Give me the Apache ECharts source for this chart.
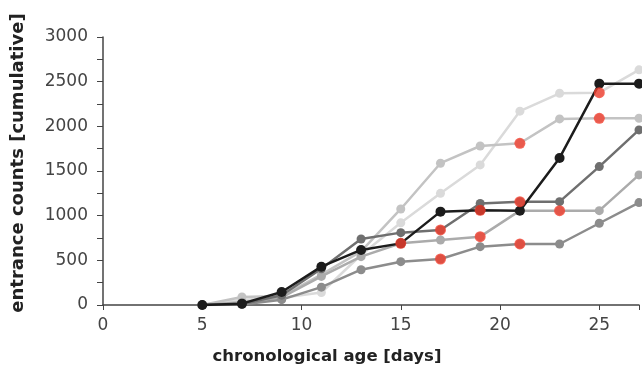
<!DOCTYPE html>
<html><head><meta charset="utf-8">
<script src="https://cdn.jsdelivr.net/npm/echarts@6/dist/echarts.min.js"></script>
<style>html,body{margin:0;padding:0;background:#fff}#c{width:642px;height:370px}</style>
</head><body><div id="c"></div>
<script>
const days = [5, 7, 9, 11, 13, 15, 17, 19, 21, 23, 25, 27];
const seriesA = [0, 15, 145, 429, 616, 690, 1045, 1060, 1056, 1646, 2478, 2478];
const seriesB = [0, 10, 110, 405, 739, 810, 840, 1137, 1157, 1157, 1549, 1960];
const seriesC = [0, 30, 85, 320, 541, 691, 728, 765, 1056, 1056, 1056, 1456];
const seriesD = [0, 5, 60, 200, 395, 485, 515, 653, 683, 683, 915, 1146];
const seriesE = [0, 90, 100, 340, 600, 1075, 1587, 1780, 1810, 2083, 2090, 2090];
const seriesF = [0, 60, 80, 140, 560, 920, 1250, 1568, 2170, 2370, 2377, 2632];
const yTicks = [0, 500, 1000, 1500, 2000, 2500, 3000];
const xTicks = [0, 5, 10, 15, 20, 25];
// red-marked points: [series, day]
const redMarks = [['C', 15], ['A', 19], ['C', 19], ['C', 23], ['B', 17], ['B', 21], ['D', 17], ['D', 21], ['E', 21], ['E', 25], ['F', 25]];

const all = {A: seriesA, B: seriesB, C: seriesC, D: seriesD, E: seriesE, F: seriesF};
const colors = {F: '#dadada', E: '#c3c3c3', C: '#ababab', D: '#8c8c8c', B: '#6f6f6f', A: '#1c1c1c'};
const order = ['F', 'E', 'C', 'D', 'B', 'A'];
const pairs = arr => days.map((d, i) => [d, arr[i]]);

const series = order.map((k, idx) => ({
  name: k, type: 'line', data: pairs(all[k]), symbol: 'circle',
  symbolSize: k === 'A' ? 10 : 9, z: 2 + idx,
  lineStyle: {color: colors[k], width: 2.5},
  itemStyle: {color: colors[k]}, animation: false
}));
series.push({
  type: 'scatter', z: 20, symbolSize: 11, animation: false,
  itemStyle: {color: '#f2402f'},
  data: redMarks.map(([k, d]) => [d, all[k][days.indexOf(d)]])
});

const chart = echarts.init(document.getElementById('c'));
chart.setOption({
  animation: false,
  grid: {left: 103, right: 0, top: 37, bottom: 65},
  xAxis: {
    type: 'value', min: 0, max: 27, interval: 5,
    axisLine: {lineStyle: {color: '#444', width: 1.5}},
    axisTick: {show: true, length: 5, lineStyle: {color: '#444'}},
    splitLine: {show: false},
    axisLabel: {color: '#444', fontSize: 17, fontFamily: 'DejaVu Sans', margin: 12,
      formatter: v => xTicks.includes(v) ? String(v) : ''}
  },
  yAxis: {
    type: 'value', min: 0, max: 3000, interval: 250,
    axisLine: {show: true, lineStyle: {color: '#444', width: 1.5}},
    axisTick: {show: true, length: 6, lineStyle: {color: '#444'}},
    splitLine: {show: false},
    axisLabel: {color: '#444', fontSize: 17, fontFamily: 'DejaVu Sans', margin: 15,
      formatter: v => yTicks.includes(v) ? String(v) : ''}
  },
  graphic: [
    {type: 'text', x: 327, y: 357, style: {text: 'chronological age [days]', fill: '#222',
      font: 'bold 16.5px "DejaVu Sans"', textAlign: 'center', textVerticalAlign: 'middle'}},
    {type: 'text', x: 18, y: 163, rotation: Math.PI / 2, style: {text: 'entrance counts [cumulative]', fill: '#222',
      font: 'bold 18px "DejaVu Sans"', textAlign: 'center', textVerticalAlign: 'middle'}}
  ],
  series: series
});
</script></body></html>
